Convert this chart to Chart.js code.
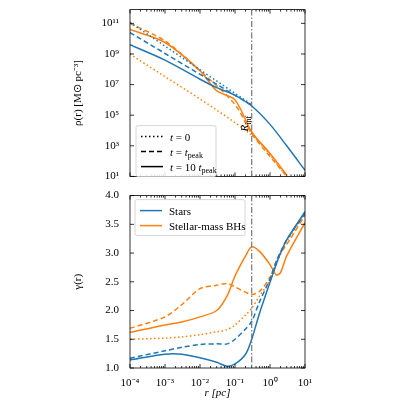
<!DOCTYPE html>
<html>
<head>
<meta charset="utf-8">
<script src="https://cdn.jsdelivr.net/npm/chart.js@4"></script>
<style>
  body { margin: 0; background: #fff; overflow: hidden; }
  .panel { position: absolute; left: 0; width: 400px; }
</style>
</head>
<body>
<div class="panel" style="top:0;height:186px"><canvas id="top"></canvas></div>
<div class="panel" style="top:186px;height:214px"><canvas id="bot"></canvas></div>
<script>
// x grid (pc)
const rTop = [1e-4, 1e-3, 1e-2, 3e-2, 0.1, 0.3, 1, 3, 10];
// log10 density
const starsT0 = [11.06, null, null, null, null, 5.69];
const starsPeak = [10.4, null, null, null, null, 5.65];
const starsLate = [9.6, 8.6, 7.35, 6.8, 6.3, 5.6, 4.4, 3.0, 1.4];
const bhT0 = [9.0, null, null, null, null, 3.7, null, 1.0];
const bhPeak = [11.0, 9.85, 7.9, null, 5.7, 3.8, null, 1.0];
const bhLate = [10.6, 9.75, 7.9, 6.6, 6.0, 3.9, 2.5, 1.1];

const rBot = [1e-4, 1e-3, 3e-3, 1e-2, 3e-2, 6e-2, 0.1, 0.2, 0.3, 0.5, 1, 1.5, 2, 3, 10];
const gStarsLate = [1.14, 1.24, 1.24, 1.18, 1.1, 1.03, 1.07, 1.24, 1.5, 1.95, 2.49, 2.8, 3.0, 3.23, 3.72];
const gStarsPeak = [1.17, 1.3, 1.36, 1.41, 1.42, 1.42, 1.5, 1.68, 1.81, 2.15, 2.55, 2.85, 3.02, 3.23, 3.69];
const gBhT0 = [1.5, 1.52, 1.54, 1.58, 1.63, 1.67, 1.75, 1.92, 2.04, 2.25, 2.52, 2.8, 2.98, 3.2, 3.68];
const gBhPeak = [1.69, 1.89, 2.1, 2.38, 2.44, 2.47, 2.41, 2.32, 2.28, 2.33, 2.58, 2.85, 3.0, 3.15, 3.66];
const gBhLate = [1.62, 1.75, 1.8, 1.89, 2.0, 2.26, 2.6, 2.95, 3.11, 3.03, 2.8, 2.62, 2.66, 2.95, 3.53];

const xTicks = [-4, -3, -2, -1, 0, 1];
const rhoTicks = [1, 3, 5, 7, 9, 11];
const gammaTicks = [1.0, 1.5, 2.0, 2.5, 3.0, 3.5, 4.0];
const rInf = 0.3;

const BLUE = '#1f77b4', ORANGE = '#ff7f0e';
const FONT = 'Liberation Serif';
Chart.defaults.font.family = FONT;
Chart.defaults.color = '#000';

const sup = { '-': '⁻', '0': '⁰', '1': '¹', '2': '²', '3': '³', '4': '⁴', '5': '⁵', '6': '⁶', '7': '⁷', '8': '⁸', '9': '⁹' };
const pow10 = e => '10' + String(e).split('').map(c => sup[c]).join('');

function pts(xs, ys, logY) {
    const out = [];
    ys.forEach((y, i) => { if (y !== null) out.push({ x: xs[i], y: logY ? Math.pow(10, y) : y }); });
    return out;
}
function ds(data, color, style) {
    const dash = style === 'dot' ? [1.5, 2.5] : style === 'dash' ? [5, 3] : [];
    return { data, borderColor: color, borderDash: dash, borderWidth: 1.5, pointRadius: 0, fill: false, tension: 0.3 };
}

// frame, inward ticks, R_inf line, legend
function framePlugin(opts) {
    return {
        id: 'frame',
        afterDraw(chart) {
            const { ctx, chartArea: a, scales } = chart;
            ctx.save();
            ctx.strokeStyle = '#000';
            ctx.lineWidth = 0.8;
            ctx.strokeRect(a.left, a.top, a.right - a.left, a.bottom - a.top);
            // x ticks inward
            for (let e = -4; e <= 1; e++) {
                for (let m = 1; m < 10; m++) {
                    const v = m * Math.pow(10, e);
                    if (v > 10) break;
                    const px = scales.x.getPixelForValue(v);
                    const len = m === 1 ? 4 : 2;
                    ctx.beginPath();
                    ctx.moveTo(px, a.bottom); ctx.lineTo(px, a.bottom - len);
                    ctx.moveTo(px, a.top); ctx.lineTo(px, a.top + len);
                    ctx.stroke();
                }
            }
            opts.yTicks.forEach(v => {
                const py = scales.y.getPixelForValue(v);
                ctx.beginPath();
                ctx.moveTo(a.left, py); ctx.lineTo(a.left + 4, py);
                ctx.moveTo(a.right, py); ctx.lineTo(a.right - 4, py);
                ctx.stroke();
            });
            // R_inf
            const xi = scales.x.getPixelForValue(rInf);
            ctx.strokeStyle = '#777';
            ctx.lineWidth = 1.2;
            ctx.setLineDash([6, 2, 1.5, 2]);
            ctx.beginPath(); ctx.moveTo(xi, a.top); ctx.lineTo(xi, a.bottom); ctx.stroke();
            ctx.setLineDash([]);
            if (opts.rLabel) {
                ctx.save();
                ctx.translate(xi - 4, a.top + 122);
                ctx.rotate(-Math.PI / 2);
                ctx.fillStyle = '#000';
                ctx.font = 'italic 11px ' + FONT;
                ctx.fillText('R', 0, 0);
                ctx.font = '8px ' + FONT;
                ctx.fillText('inf', 7, 3);
                ctx.restore();
            }
            // legend
            const L = opts.legend;
            const lx = a.left + L.dx, ly = a.top + L.dy;
            ctx.fillStyle = 'rgba(255,255,255,0.85)';
            ctx.strokeStyle = '#ccc';
            ctx.lineWidth = 0.8;
            ctx.beginPath();
            ctx.roundRect(lx, ly, L.w, L.items.length * 15 + 6, 2);
            ctx.fill(); ctx.stroke();
            L.items.forEach((it, i) => {
                const yy = ly + 11 + i * 15;
                ctx.strokeStyle = it.color;
                ctx.lineWidth = 1.5;
                ctx.setLineDash(it.dash);
                ctx.beginPath(); ctx.moveTo(lx + 5, yy); ctx.lineTo(lx + 27, yy); ctx.stroke();
                ctx.setLineDash([]);
                ctx.fillStyle = '#000';
                let tx = lx + 34;
                it.text.forEach(part => {
                    ctx.font = (part.it ? 'italic ' : '') + (part.sub ? '8px ' : '11px ') + FONT;
                    ctx.fillText(part.t, tx, yy + (part.sub ? 6 : 4));
                    tx += ctx.measureText(part.t).width;
                });
            });
            ctx.restore();
        }
    };
}

function xScale(showLabels) {
    return {
        type: 'logarithmic', min: 1e-4, max: 10,
        grid: { display: false }, border: { display: false },
        afterFit: s => { if (showLabels) s.height = 31; },
        afterBuildTicks: s => { s.ticks = xTicks.map(e => ({ value: Math.pow(10, e) })); },
        ticks: { display: showLabels, font: { size: 11, lineHeight: 1 }, maxRotation: 0, padding: 2,
                 callback: v => pow10(Math.round(Math.log10(v))) },
        title: { display: showLabels, text: 'r [pc]', font: { size: 11, style: 'italic', lineHeight: 1 }, padding: { top: 3, bottom: 0 } }
    };
}
function fixWidth(s) { s.width = 58; }

new Chart(document.getElementById('top'), {
    type: 'line',
    data: { datasets: [
        ds(pts(rTop, starsT0, true), BLUE, 'dot'),
        ds(pts(rTop, starsPeak, true), BLUE, 'dash'),
        ds(pts(rTop, starsLate, true), BLUE, 'solid'),
        ds(pts(rTop, bhT0, true), ORANGE, 'dot'),
        ds(pts(rTop, bhPeak, true), ORANGE, 'dash'),
        ds(pts(rTop, bhLate, true), ORANGE, 'solid')
    ] },
    options: {
        responsive: true, maintainAspectRatio: false, animation: false,
        layout: { padding: { left: 72, right: 95, top: 2, bottom: 0 } },
        plugins: { legend: { display: false }, tooltip: { enabled: false } },
        scales: {
            x: xScale(false),
            y: {
                type: 'logarithmic', min: 10, max: Math.pow(10, 11.9),
                grid: { display: false }, border: { display: false },
                afterFit: fixWidth,
                afterBuildTicks: s => { s.ticks = rhoTicks.map(e => ({ value: Math.pow(10, e) })); },
                ticks: { font: { size: 11 }, padding: 3, callback: v => pow10(Math.round(Math.log10(v))) },
                title: { display: true, text: 'ρ(r) [M⊙ pc⁻³]', font: { size: 11 }, padding: 0 }
            }
        }
    },
    plugins: [framePlugin({
        yTicks: rhoTicks.map(e => Math.pow(10, e)), rLabel: true,
        legend: { dx: 6, dy: 116, w: 80, items: [
            { color: '#000', dash: [1.5, 2.5], text: [{ t: 't', it: 1 }, { t: ' = 0' }] },
            { color: '#000', dash: [5, 3], text: [{ t: 't', it: 1 }, { t: ' = ' }, { t: 't', it: 1 }, { t: 'peak', sub: 1 }] },
            { color: '#000', dash: [], text: [{ t: 't', it: 1 }, { t: ' = 10 ' }, { t: 't', it: 1 }, { t: 'peak', sub: 1 }] }
        ] }
    })]
});

new Chart(document.getElementById('bot'), {
    type: 'line',
    data: { datasets: [
        ds(pts(rBot, gStarsLate, false), BLUE, 'solid'),
        ds(pts(rBot, gStarsPeak, false), BLUE, 'dash'),
        ds(pts(rBot, gBhT0, false), ORANGE, 'dot'),
        ds(pts(rBot, gBhPeak, false), ORANGE, 'dash'),
        ds(pts(rBot, gBhLate, false), ORANGE, 'solid')
    ] },
    options: {
        responsive: true, maintainAspectRatio: false, animation: false,
        layout: { padding: { left: 72, right: 95, top: 9, bottom: 1 } },
        plugins: { legend: { display: false }, tooltip: { enabled: false } },
        scales: {
            x: xScale(true),
            y: {
                min: 1, max: 4,
                grid: { display: false }, border: { display: false },
                afterFit: fixWidth,
                afterBuildTicks: s => { s.ticks = gammaTicks.map(v => ({ value: v })); },
                ticks: { font: { size: 11 }, padding: 3, callback: v => v.toFixed(1) },
                title: { display: true, text: 'γ(r)', font: { size: 11 }, padding: 0 }
            }
        }
    },
    plugins: [framePlugin({
        yTicks: gammaTicks, rLabel: false,
        legend: { dx: 5, dy: 4, w: 110, items: [
            { color: BLUE, dash: [], text: [{ t: 'Stars' }] },
            { color: ORANGE, dash: [], text: [{ t: 'Stellar-mass BHs' }] }
        ] }
    })]
});
</script>
</body>
</html>
